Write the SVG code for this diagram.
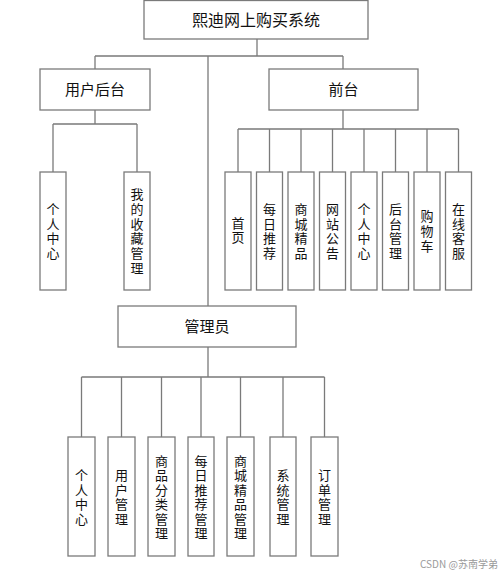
<svg xmlns="http://www.w3.org/2000/svg" width="500" height="573" viewBox="0 0 500 573">
<style>
.b{fill:#fff;stroke:#7a7a7a;stroke-width:1.3}
.c{fill:none;stroke:#7a7a7a;stroke-width:1.3}
text{font-family:"Noto Sans CJK SC","Liberation Sans",sans-serif;fill:#111;text-anchor:middle}
.h{font-size:16px}
.m{font-size:15px}
.v{font-size:13px;writing-mode:vertical-rl;text-orientation:upright;letter-spacing:1.7px}
.v2{font-size:13px;writing-mode:vertical-rl;text-orientation:upright;letter-spacing:1.5px}
.w{font-size:10px;fill:#9a9a9a;text-anchor:start}
</style>
<rect width="500" height="573" fill="#fff"/>
<g id="connectors" class="c">
<path d="M257 39V56M95 56H343M95 56V69M343 56V69M208 56V306"/>
<path d="M95 110V124M53 124H137M53 124V172M137 124V172"/>
<path d="M343 110V129M238 129H458.5M238 129V172M269.5 129V172M301 129V172M332.5 129V172M364 129V172M395.5 129V172M427 129V172M458.5 129V172"/>
<path d="M208 347V377M81.5 377H324.5M81.5 377V437M121.5 377V437M161.5 377V437M201 377V437M240.5 377V437M283 377V437M324.5 377V437"/>
</g>
<g id="root"><rect class="b" x="144" y="0.5" width="224" height="38.5"/><text class="h" x="256" y="25.5">熙迪网上购买系统</text></g>
<g id="userback"><rect class="b" x="40" y="69" width="110" height="41"/><text class="m" x="95" y="95">用户后台</text></g>
<g id="front"><rect class="b" x="269" y="69" width="149" height="41"/><text class="m" x="343.5" y="95">前台</text></g>
<g id="admin"><rect class="b" x="118" y="306" width="178" height="41"/><text class="m" x="207" y="332">管理员</text></g>

<g id="u1"><rect class="b" x="40" y="172" width="26" height="118"/><text class="v" x="53" y="232">个人中心</text></g>
<g id="u2"><rect class="b" x="124" y="172" width="26" height="118"/><text class="v" x="137" y="232">我的收藏管理</text></g>

<g id="f1"><rect class="b" x="225" y="172" width="26" height="118"/><text class="v" x="238" y="231">首页</text></g>
<g id="f2"><rect class="b" x="256.5" y="172" width="26" height="118"/><text class="v" x="269.5" y="232">每日推荐</text></g>
<g id="f3"><rect class="b" x="288" y="172" width="26" height="118"/><text class="v" x="301" y="232">商城精品</text></g>
<g id="f4"><rect class="b" x="319.5" y="172" width="26" height="118"/><text class="v" x="332.5" y="232">网站公告</text></g>
<g id="f5"><rect class="b" x="351" y="172" width="26" height="118"/><text class="v" x="364" y="232">个人中心</text></g>
<g id="f6"><rect class="b" x="382.5" y="172" width="26" height="118"/><text class="v" x="395.5" y="232">后台管理</text></g>
<g id="f7"><rect class="b" x="414" y="172" width="26" height="118"/><text class="v" x="427" y="232">购物车</text></g>
<g id="f8"><rect class="b" x="445.5" y="172" width="26" height="118"/><text class="v" x="458.5" y="232">在线客服</text></g>

<g id="a1"><rect class="b" x="68" y="437" width="27" height="119"/><text class="v2" x="81.5" y="498">个人中心</text></g>
<g id="a2"><rect class="b" x="108" y="437" width="27" height="119"/><text class="v2" x="121.5" y="498">用户管理</text></g>
<g id="a3"><rect class="b" x="148" y="437" width="27" height="119"/><text class="v2" x="161.5" y="498">商品分类管理</text></g>
<g id="a4"><rect class="b" x="188" y="437" width="26" height="119"/><text class="v2" x="201" y="498">每日推荐管理</text></g>
<g id="a5"><rect class="b" x="227" y="437" width="27" height="119"/><text class="v2" x="240.5" y="498">商城精品管理</text></g>
<g id="a6"><rect class="b" x="270" y="437" width="26" height="119"/><text class="v2" x="283" y="498">系统管理</text></g>
<g id="a7"><rect class="b" x="311" y="437" width="27" height="119"/><text class="v2" x="324.5" y="498">订单管理</text></g>

<text class="w" x="420" y="568">CSDN @苏南学弟</text>
</svg>
